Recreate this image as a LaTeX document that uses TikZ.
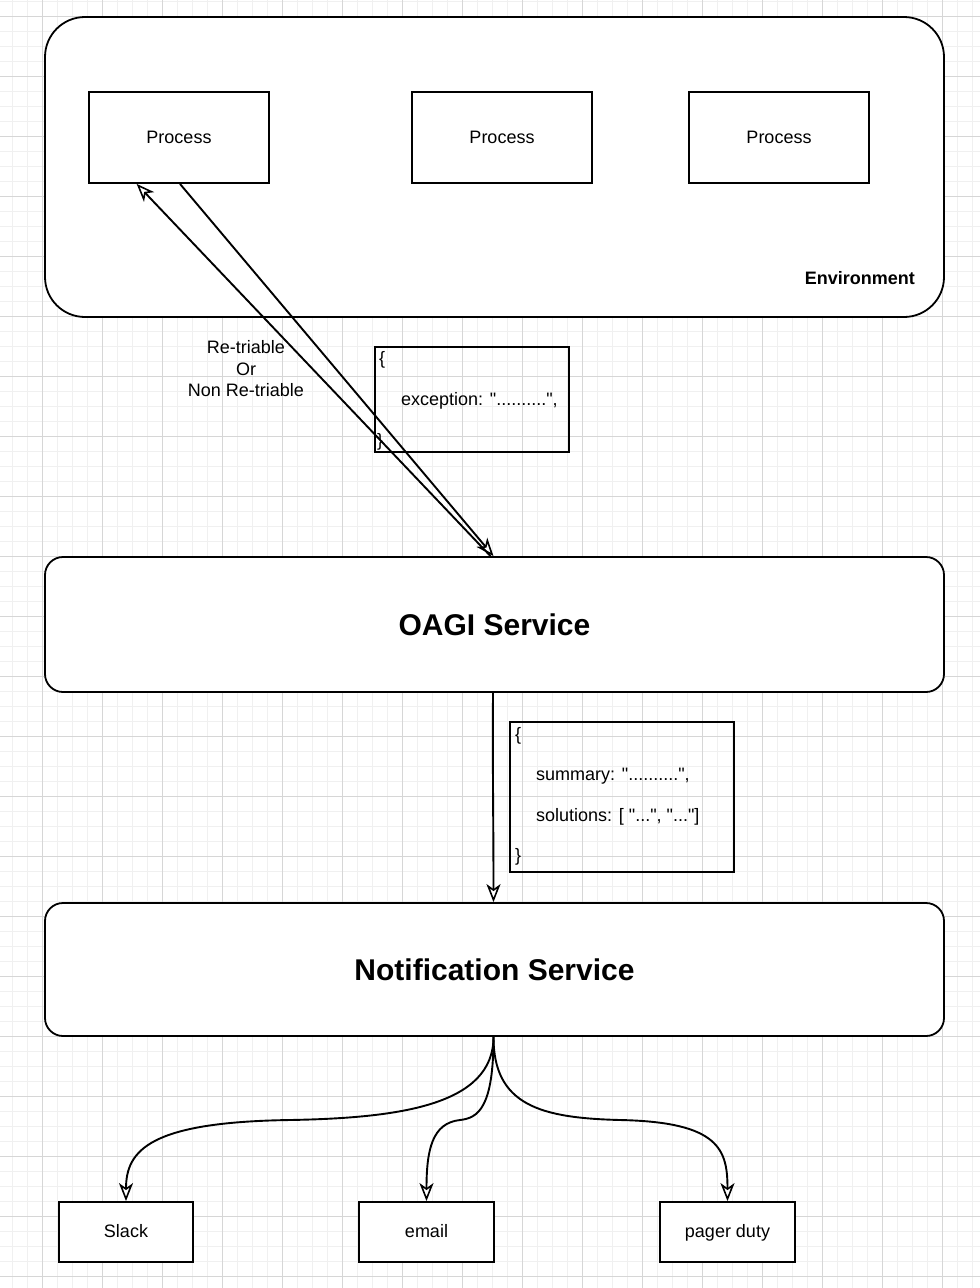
\documentclass[tikz,border=0pt]{standalone}
\usepackage{fontspec}
\setmainfont{Liberation Sans}[Ligatures=TeXOff]
\usetikzlibrary{arrows.meta,calc}
\begin{document}
\begin{tikzpicture}[x=1pt,y=-1pt,
  every node/.style={font=\fontsize{18}{21.5}\selectfont},
  box/.style={draw=black,line width=1.8pt,fill=white,inner sep=0pt,text height=15pt,text depth=4pt},
  jsonbox/.style={draw=black,line width=1.8pt,inner sep=0pt},
  bigbox/.style={draw=black,line width=1.8pt,fill=white,inner sep=0pt,rounded corners=18pt,font=\fontsize{30}{34}\selectfont\bfseries},
  txt/.style={inner sep=0pt,anchor=base west},
  arr/.style={draw=black,line width=1.9pt,-{Stealth[open,fill=white,length=18pt,width=14pt,inset=5pt,line width=1.6pt]}}
]
% canvas and grid
\fill[white] (0,0) rectangle (980,1288);
\useasboundingbox (0,0) rectangle (980,1288);
\foreach \i in {0,...,65} {
  \draw[color=black!6,line width=1pt] ({12.7+15*\i},0) -- ({12.7+15*\i},1288);
}
\foreach \i in {0,...,86} {
  \draw[color=black!6,line width=1pt] (0,{1+15*\i}) -- (980,{1+15*\i});
}
\foreach \i in {0,...,16} {
  \draw[color=black!16,line width=1pt] ({42.7+60*\i},0) -- ({42.7+60*\i},1288);
}
\foreach \i in {0,...,21} {
  \draw[color=black!16,line width=1pt] (0,{16+60*\i}) -- (980,{16+60*\i});
}

% environment
\node[draw=black,line width=1.8pt,fill=white,rounded corners=40pt,minimum width=899pt,minimum height=300pt] (env) at (494.5,167) {};
\node[inner sep=0pt,anchor=base east,font=\fontsize{18}{21}\selectfont\bfseries] (envlbl) at (915,284.5) {Environment};

% processes
\node[box,minimum width=180pt,minimum height=91pt] (p1) at (179,137.5) {Process};
\node[box,minimum width=180pt,minimum height=91pt] (p2) at (502,137.5) {Process};
\node[box,minimum width=180pt,minimum height=91pt] (p3) at (779,137.5) {Process};

% json box 1
\node[jsonbox,minimum width=194pt,minimum height=105pt] (j1) at (472,399.5) {};
\node[txt] (j1a) at (379,364) {\{};
\node[txt] (j1b) at (401,405) {exception: "..........",};
\node[txt] (j1c) at (377,446) {\}};

% label
\node[align=center,inner sep=0pt] (lbl) at (246,369) {Re-triable\\Or\\Non Re-triable};

% services
\node[bigbox,minimum width=899pt,minimum height=135pt] (oagi) at (494.5,624.5) {OAGI Service};
\node[bigbox,minimum width=899pt,minimum height=133pt] (notif) at (494.5,969.5) {Notification Service};

% json box 2
\node[jsonbox,minimum width=224pt,minimum height=150pt] (j2) at (622,797) {};
\node[txt] (j2a) at (515,740) {\{};
\node[txt] (j2b) at (536,780.5) {summary: "..........",};
\node[txt] (j2c) at (536,821.5) {solutions: [ "...", "..."]};
\node[txt] (j2d) at (515,861) {\}};

% targets
\node[box,minimum width=134pt,minimum height=60pt] (slack) at (126,1232) {Slack};
\node[box,minimum width=135pt,minimum height=60pt] (email) at (426.5,1232) {email};
\node[box,minimum width=135pt,minimum height=60pt] (pager) at (727.5,1232) {pager duty};

% connectors env <-> oagi
\draw[arr] ($(p1.south)+(1,0)$) -- ($(oagi.north)+(-1,0)$);
\draw[arr] ($(oagi.north)+(-4,0)$) -- ($(p1.south west)!0.267!(p1.south east)$);

% oagi -> notif
\draw[arr] ($(oagi.south)+(-1.5,0)$) .. controls ($(oagi.south)+(-2,80)$) and ($(notif.north)+(-1,-80)$) .. ($(notif.north)+(-1,0)$);

% notif -> targets
\draw[arr] ($(notif.south)+(-1,0)$) .. controls (493.5,1105) and (400,1118) .. (290,1120) .. controls (150,1122) and (126,1150) .. (slack.north);
\draw[arr] ($(notif.south)+(-1,0)$) .. controls (493.5,1108) and (478,1118) .. (460,1120) .. controls (432,1123) and (426.5,1150) .. (email.north);
\draw[arr] ($(notif.south)+(-1,0)$) .. controls (493.5,1105) and (540,1118) .. (620,1120) .. controls (720,1122) and (727.5,1150) .. (pager.north);
\end{tikzpicture}
\end{document}
